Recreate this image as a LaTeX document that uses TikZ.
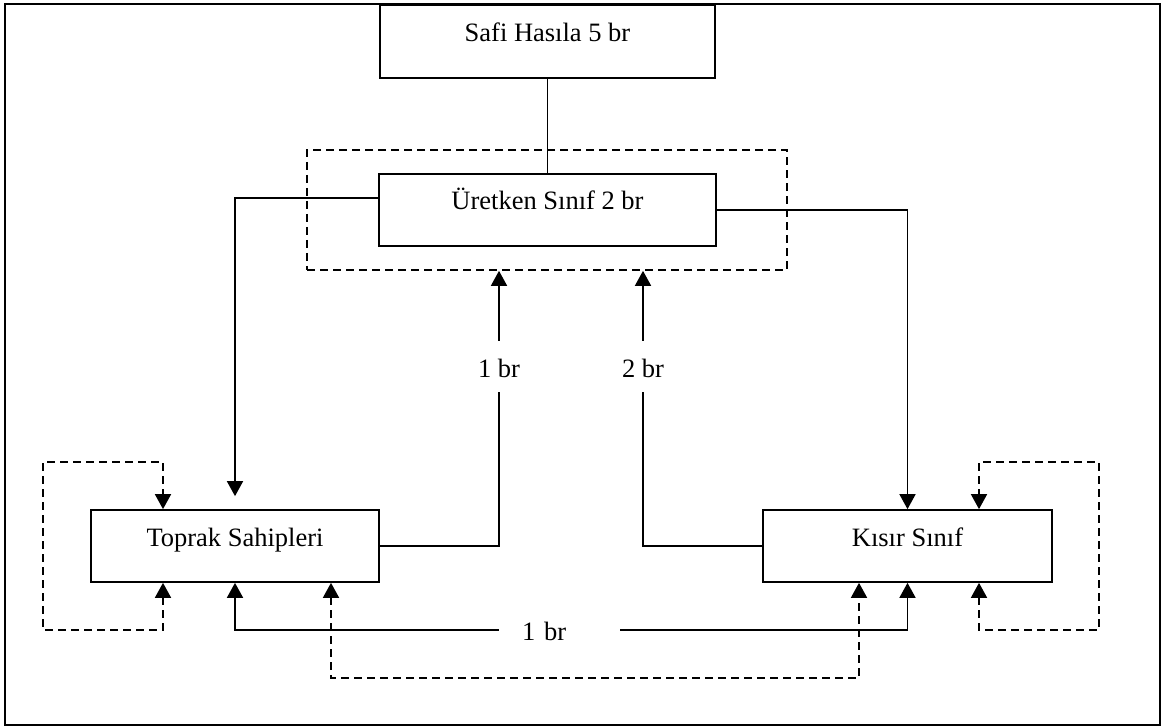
\documentclass[tikz,border=0pt]{standalone}
\usepackage{fontspec}
\setmainfont{Liberation Serif}
\usetikzlibrary{arrows.meta}
\begin{document}
\begin{tikzpicture}[x=1pt,y=-1pt,
  every node/.style={font=\fontsize{26.5}{30}\selectfont},
  box/.style={draw,line width=1.7pt,inner sep=0pt,text height=11pt,text depth=11pt},
  dbox/.style={draw,line width=1.7pt,dash pattern=on 8pt off 5pt,inner sep=0pt},
  lbl/.style={inner sep=0pt,text height=21pt,text depth=0pt},
  cline/.style={line width=1.7pt},
  dline/.style={line width=1.7pt,dash pattern=on 8pt off 5pt},
  arr/.style={-{Triangle[length=15pt,width=16pt]}},
  arrb/.style={{Triangle[length=15pt,width=16pt]}-{Triangle[length=15pt,width=16pt]}}]
\useasboundingbox (0,0) rectangle (1162,727);
\draw[line width=2.4pt] (5,4) rectangle (1160,725);

\node[box,minimum width=335pt,minimum height=73pt] (safi) at (547.5,41.5) {Safi Hasıla 5 br};
\node[dbox,minimum width=480pt,minimum height=120pt] (dashbox) at (547,210) {};
\node[box,minimum width=337pt,minimum height=72pt,fill=white] (uret) at (547.5,210) {Üretken Sınıf 2 br};
\node[box,minimum width=288pt,minimum height=72pt] (toprak) at (235,546) {Toprak Sahipleri};
\node[box,minimum width=289pt,minimum height=72pt] (kisir) at (907.5,546) {Kısır Sınıf};

\node[lbl,minimum width=40pt,minimum height=51pt] (lab1) at (499,366.5) {1 br};
\node[lbl,minimum width=40pt,minimum height=51pt] (lab2) at (643,366.5) {2 br};
\node[lbl,minimum width=121pt,minimum height=30pt,text width=75pt,inner xsep=23pt,align=left] (lab3) at (559.5,630) {1 br};

\coordinate (lcA) at (43,630);
\coordinate (lcB) at (43,462);
\coordinate (rcA) at (1099,630);
\coordinate (rcB) at (1099,462);
\coordinate (bc) at (859,678);

% solid connectors
\draw[cline] (safi.south) -- (uret.north);
\draw[cline,arr] ([yshift=12pt]uret.west) -| ([yshift=13pt]toprak.north);
\draw[cline,arr] (uret.east) -| (kisir.north);
\draw[cline] (toprak.east) -| (lab1.south);
\draw[cline,arr] (lab1.north) -- (lab1.north |- dashbox.south);
\draw[cline] (kisir.west) -| (lab2.south);
\draw[cline,arr] (lab2.north) -- (lab2.north |- dashbox.south);
\draw[cline,arr] (lab3.west) -| (toprak.south);
\draw[cline,arr] (lab3.east) -| (kisir.south);

% dashed loops
\draw[dline,arrb] ([xshift=-72pt]toprak.south) |- (lcA) -- (lcB) -| ([xshift=-72pt]toprak.north);
\draw[dline,arrb] ([xshift=71.5pt]kisir.south) |- (rcA) -- (rcB) -| ([xshift=71.5pt]kisir.north);
\draw[dline,arrb] ([xshift=96pt]toprak.south) |- (bc) -- ([xshift=-48.5pt]kisir.south);
\end{tikzpicture}
\end{document}
